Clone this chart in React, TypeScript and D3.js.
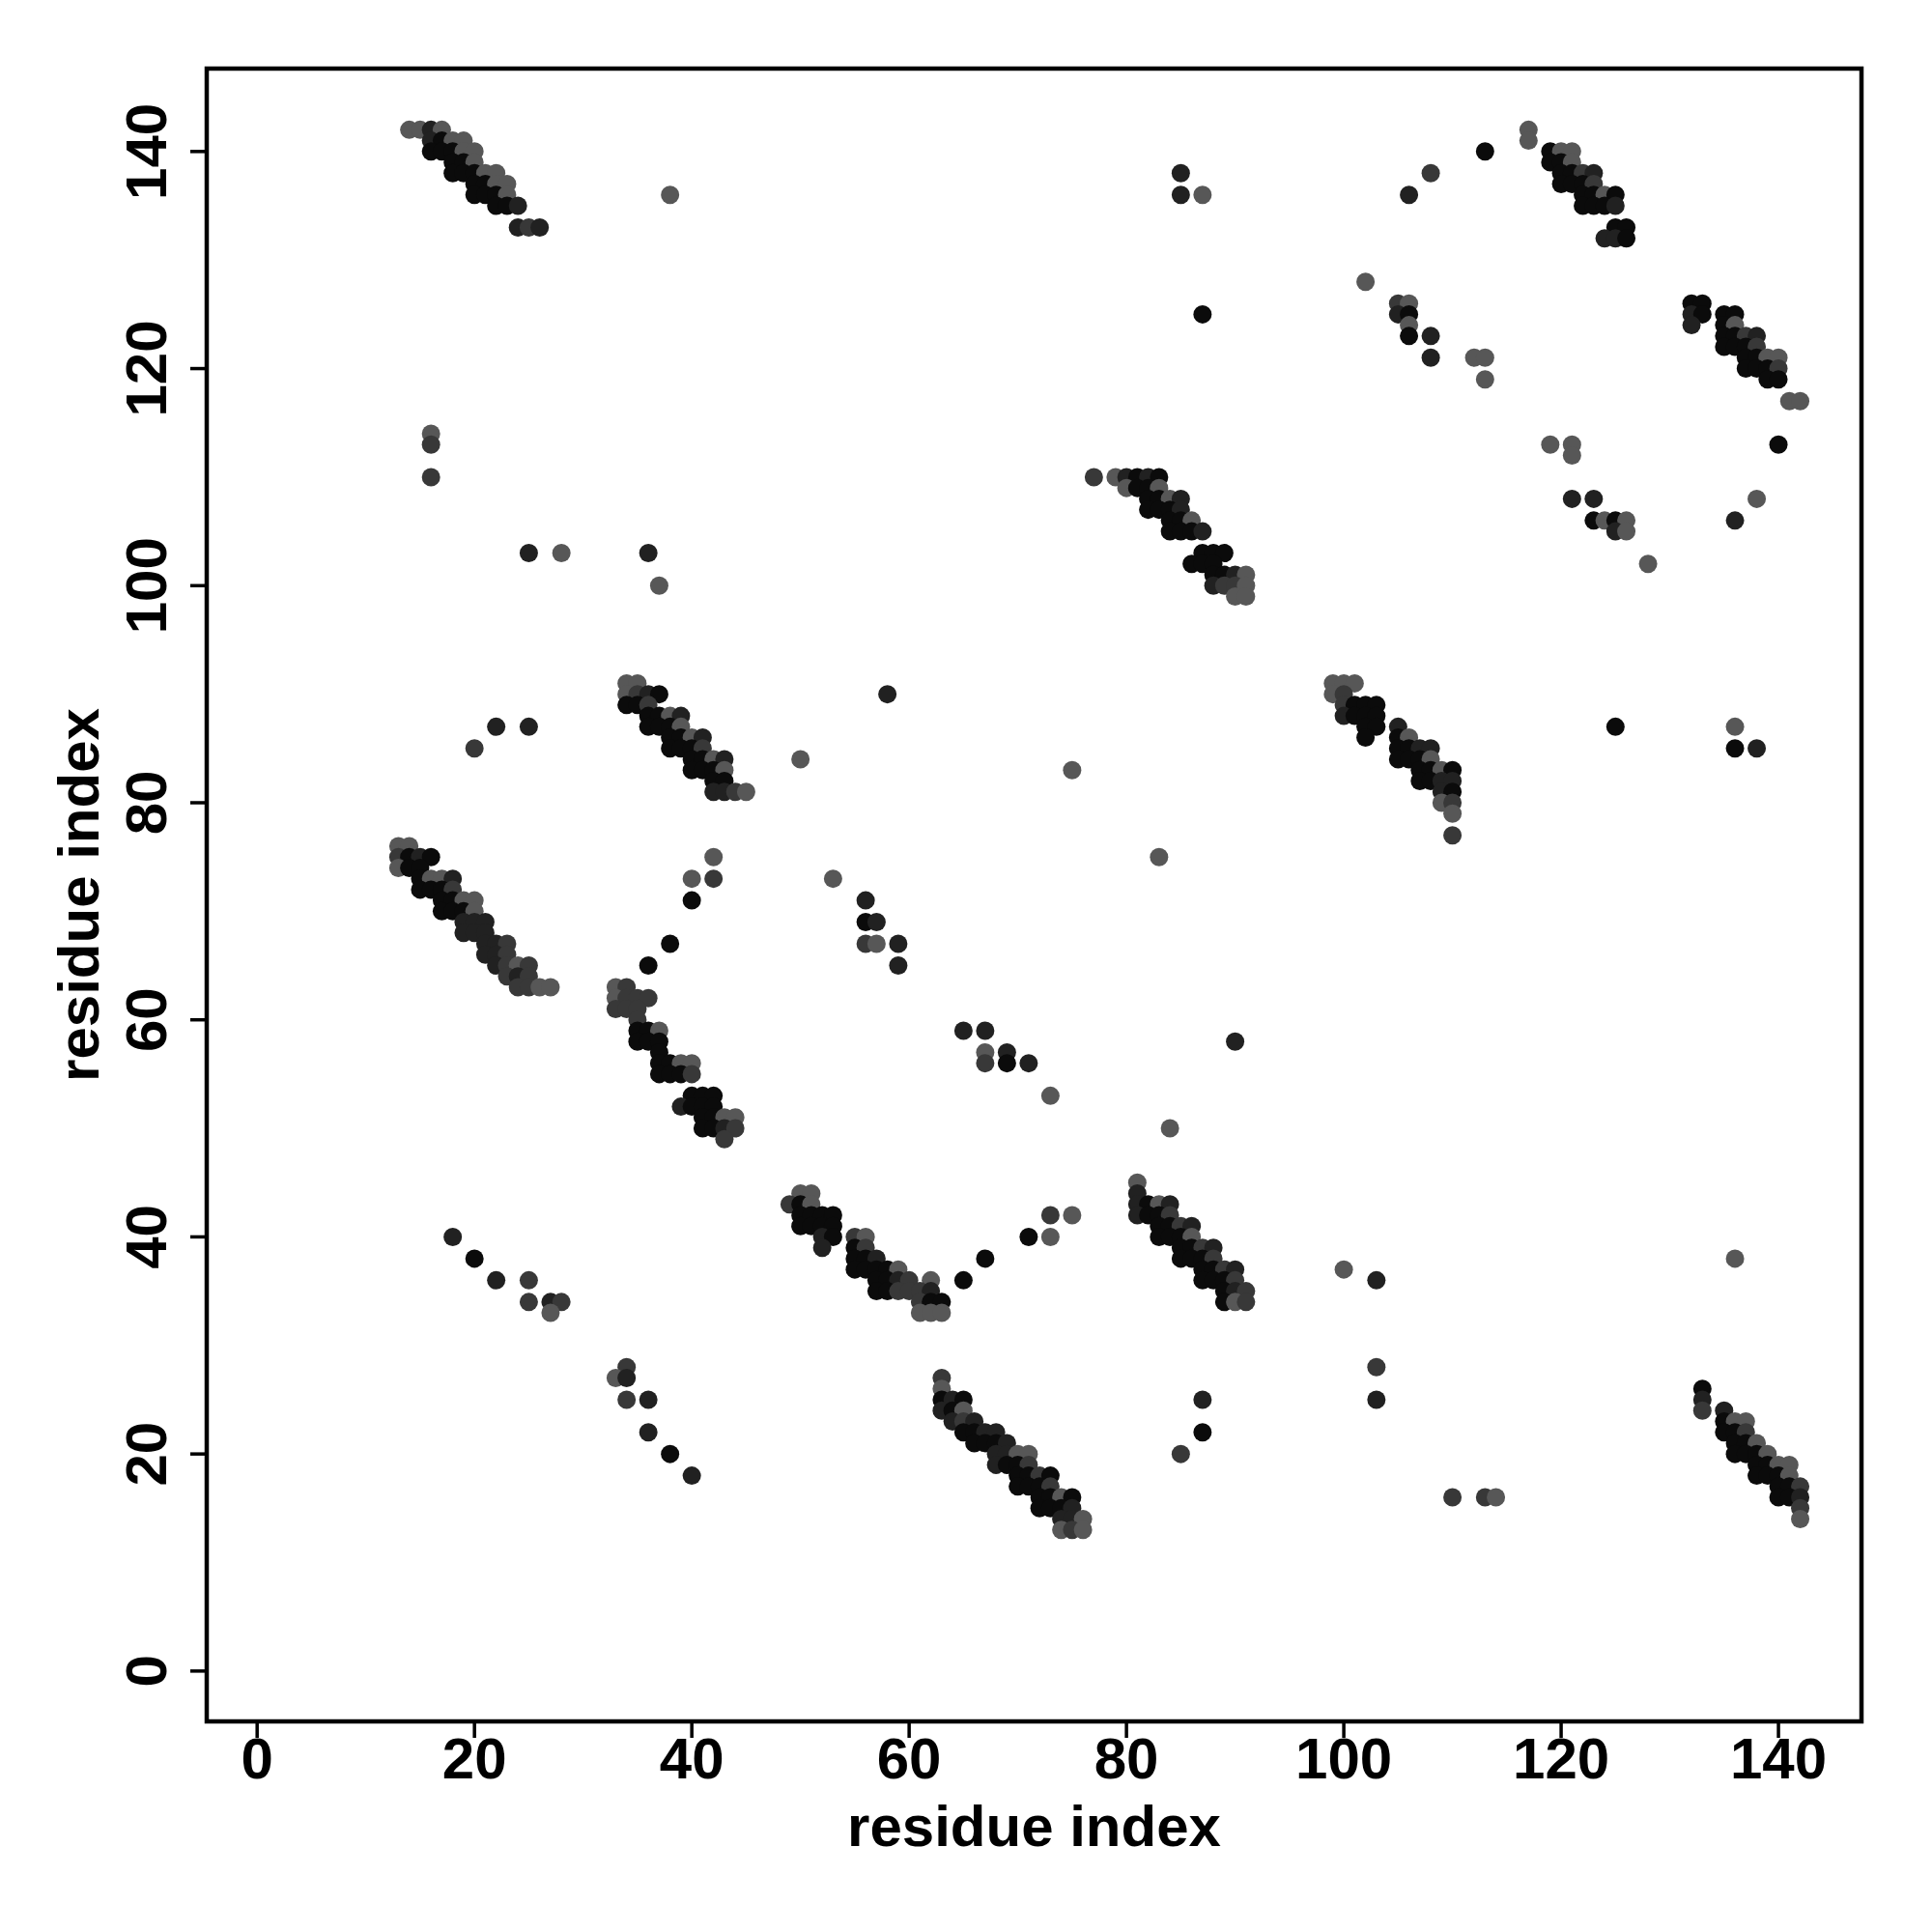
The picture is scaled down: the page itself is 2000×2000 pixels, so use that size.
import React from "react";
import * as d3 from "d3";

// [residue i, residue j, shade level (0 = darkest … 3 = lightest)]
type P = [number, number, number];

const bandTopLeft: P[] = [
  [14,142,3],[15,142,3],[16,142,1],[17,142,3],
  [16,141,1],[17,141,0],[18,141,3],[19,141,3],
  [16,140,0],[17,140,0],[18,140,0],[19,140,3],[20,140,3],
  [18,139,0],[19,139,0],[20,139,3],
  [18,138,0],[19,138,0],[20,138,0],[21,138,3],[22,138,3],
  [20,137,0],[21,137,0],[22,137,3],[23,137,3],
  [20,136,0],[21,136,0],[22,136,0],[23,136,3],
  [22,135,0],[23,135,0],[24,135,1],
  [24,133,1],[25,133,2],[26,133,1],
];

const bandB: P[] = [
  [77,110,2],[79,110,3],[80,110,1],[81,110,0],[82,110,1],[83,110,0],
  [80,109,3],[81,109,0],[82,109,0],[83,109,3],
  [82,108,0],[83,108,0],[84,108,3],[85,108,1],
  [82,107,0],[83,107,0],[84,107,0],[85,107,1],
  [84,106,0],[85,106,0],[86,106,3],
  [84,105,0],[85,105,0],[86,105,0],[87,105,1],
  [87,103,0],[88,103,0],[89,103,0],
  [86,102,0],[87,102,0],[88,102,0],
  [88,101,0],[89,101,0],[90,101,1],[91,101,3],
  [88,100,1],[89,100,2],[90,100,2],[91,100,3],
  [90,99,3],[91,99,3],
];

const bandC: P[] = [
  [119,140,0],[120,140,3],[121,140,3],
  [119,139,0],[120,139,0],[121,139,3],
  [120,138,0],[121,138,0],[122,138,2],[123,138,1],
  [120,137,0],[121,137,0],[122,137,0],[123,137,2],
  [122,136,0],[123,136,0],[124,136,3],[125,136,0],
  [122,135,0],[123,135,0],[124,135,0],[125,135,1],
  [125,133,0],[126,133,0],
  [124,132,1],[125,132,1],[126,132,0],
];

const bandD: P[] = [
  [132,126,0],[133,126,0],
  [132,125,1],[133,125,0],[135,125,0],[136,125,0],
  [132,124,1],[135,124,0],[136,124,3],
  [135,123,0],[136,123,0],[137,123,2],[138,123,1],
  [135,122,0],[136,122,0],[137,122,0],[138,122,2],
  [137,121,0],[138,121,0],[139,121,3],[140,121,3],
  [137,120,0],[138,120,0],[139,120,0],[140,120,2],
  [139,119,0],[140,119,0],
  [141,117,3],[142,117,3],
];

const bandE: P[] = [
  [34,91,3],[35,91,3],
  [34,90,3],[35,90,2],[36,90,1],[37,90,0],
  [34,89,0],[35,89,0],[36,89,2],
  [36,88,0],[37,88,0],[38,88,3],[39,88,1],
  [36,87,0],[37,87,0],[38,87,0],[39,87,3],
  [38,86,0],[39,86,0],[40,86,3],[41,86,1],
  [38,85,0],[39,85,0],[40,85,0],[41,85,2],
  [40,84,0],[41,84,0],[42,84,3],[43,84,1],
  [40,83,0],[41,83,0],[42,83,0],[43,83,3],
  [42,82,0],[43,82,0],
  [42,81,1],[43,81,1],[44,81,2],[45,81,3],
];

const bandF: P[] = [
  [13,76,3],[14,76,3],
  [13,75,2],[14,75,0],[15,75,1],[16,75,0],
  [13,74,3],[14,74,0],[15,74,0],
  [15,73,0],[16,73,3],[17,73,3],[18,73,1],
  [15,72,0],[16,72,0],[17,72,0],[18,72,2],
  [17,71,0],[18,71,0],[19,71,3],[20,71,3],
  [17,70,0],[18,70,0],[19,70,0],[20,70,3],
  [19,69,1],[20,69,1],[21,69,1],
  [19,68,1],[20,68,1],[21,68,1],
  [21,67,1],[22,67,1],[23,67,2],
  [21,66,1],[22,66,1],[23,66,2],
  [22,65,1],[23,65,2],[24,65,3],[25,65,2],
  [23,64,2],[24,64,1],[25,64,2],
  [24,63,2],[25,63,2],[26,63,3],[27,63,3],
];

const bandG: P[] = [
  [33,63,3],[34,63,2],
  [33,62,3],[34,62,2],[35,62,2],[36,62,2],
  [33,61,2],[34,61,2],[35,61,2],
  [35,60,2],
  [35,59,0],[36,59,0],[37,59,3],
  [35,58,0],[36,58,0],[37,58,0],
  [37,57,0],
  [37,56,0],[38,56,0],[39,56,3],[40,56,3],
  [37,55,0],[38,55,0],[39,55,0],[40,55,2],
  [40,53,0],[41,53,0],[42,53,0],
  [39,52,1],[40,52,0],[41,52,0],[42,52,0],
  [41,51,0],[42,51,0],[43,51,3],[44,51,3],
  [41,50,0],[42,50,0],[43,50,1],[44,50,2],
  [43,49,2],
];

const bandH: P[] = [
  [50,44,3],[51,44,3],
  [49,43,2],[50,43,0],[51,43,3],
  [50,42,0],[51,42,0],[52,42,0],[53,42,0],
  [50,41,0],[51,41,0],[52,41,0],[53,41,0],
  [52,40,1],[53,40,0],[55,40,2],[56,40,3],
  [52,39,1],[55,39,0],[56,39,2],
  [55,38,0],[56,38,0],[57,38,1],
  [55,37,0],[56,37,0],[57,37,0],[58,37,0],[59,37,3],
  [57,36,0],[58,36,0],[59,36,1],[60,36,2],[62,36,3],
  [57,35,0],[58,35,0],[59,35,2],[60,35,2],[61,35,2],[62,35,1],
  [61,34,2],[62,34,0],[63,34,0],
  [61,33,3],[62,33,3],[63,33,3],
];

const bandI: P[] = [
  [63,27,2],
  [63,26,3],
  [63,25,0],[64,25,1],[65,25,0],
  [63,24,1],[64,24,0],[65,24,3],
  [64,23,1],[65,23,2],[66,23,1],
  [65,22,0],[66,22,0],[67,22,1],[68,22,1],
  [66,21,0],[67,21,0],[68,21,0],[69,21,1],
  [68,20,1],[69,20,1],[70,20,3],[71,20,3],
  [68,19,1],[69,19,0],[70,19,0],[71,19,2],
  [70,18,0],[71,18,0],[72,18,2],[73,18,0],
  [70,17,0],[71,17,0],[72,17,0],[73,17,2],
  [72,16,0],[73,16,0],[74,16,3],[75,16,0],
  [72,15,0],[73,15,0],[74,15,0],[75,15,1],
  [74,14,1],[75,14,1],[76,14,3],
  [74,13,3],[75,13,2],[76,13,3],
];

const bandJ: P[] = [
  [81,45,3],
  [81,44,1],
  [81,43,1],[82,43,0],[83,43,3],[84,43,1],
  [81,42,1],[82,42,0],[83,42,0],[84,42,2],
  [83,41,0],[84,41,0],[85,41,2],[86,41,1],
  [83,40,0],[84,40,0],[85,40,0],[86,40,3],
  [85,39,0],[86,39,0],[87,39,2],[88,39,1],
  [85,38,0],[86,38,0],[87,38,0],[88,38,2],
  [87,37,0],[88,37,0],[89,37,2],[90,37,1],
  [87,36,0],[88,36,0],[89,36,0],[90,36,2],
  [89,35,0],[90,35,1],[91,35,2],
  [89,34,0],[90,34,3],[91,34,2],
];

const bandK: P[] = [
  [133,26,0],[133,25,1],[133,24,2],[135,24,1],
  [135,23,0],[136,23,3],[137,23,3],
  [135,22,0],[136,22,0],[137,22,2],
  [136,21,0],[137,21,0],[138,21,3],
  [136,20,0],[137,20,0],[138,20,0],[139,20,3],
  [138,19,0],[139,19,0],[140,19,3],[141,19,3],
  [138,18,0],[139,18,0],[140,18,0],[141,18,3],
  [140,17,0],[141,17,0],[142,17,2],
  [140,16,0],[141,16,0],[142,16,1],
  [142,15,2],[142,14,3],
];

const bandL: P[] = [
  [99,91,3],[100,91,3],[101,91,3],
  [99,90,3],[100,90,2],
  [100,89,2],[101,89,0],[102,89,0],[103,89,0],
  [100,88,1],[101,88,0],[102,88,0],[103,88,0],
  [102,87,0],[103,87,0],[105,87,1],
  [102,86,0],[105,86,0],[106,86,3],
  [105,85,0],[106,85,0],[107,85,1],[108,85,1],
  [105,84,0],[106,84,0],[107,84,0],[108,84,3],
  [107,83,0],[108,83,0],[109,83,3],[110,83,0],
  [107,82,0],[108,82,0],[109,82,1],[110,82,1],
  [109,81,1],[110,81,0],
  [109,80,3],[110,80,2],
  [110,79,3],
  [110,77,2],
];

const scattered: P[] = [
  [38,136,3],[16,114,3],[16,113,2],[16,110,2],[25,103,1],[28,103,3],[36,103,1],[37,100,3],
  [22,87,1],[25,87,1],[20,85,2],
  [42,75,3],[40,73,3],[42,73,2],[40,71,0],[38,67,0],[36,65,0],
  [58,90,1],[50,84,3],[75,83,3],[53,73,3],[56,71,1],[56,69,0],[57,69,1],[56,67,2],[57,67,3],
  [59,67,1],[59,65,1],[65,59,1],[67,59,1],[67,57,3],[69,57,1],[67,56,2],[69,56,0],[71,56,1],[73,53,3],
  [65,36,0],[67,38,0],[71,40,0],[73,42,2],[75,42,3],[73,40,3],
  [18,40,1],[20,38,0],[22,36,1],[25,36,2],[25,34,2],[27,34,1],[28,34,2],[27,33,3],
  [34,28,2],[33,27,3],[34,27,1],[34,25,2],[36,25,1],[36,22,1],[38,20,0],[40,18,1],
  [84,50,3],[100,37,3],[103,36,1],[103,28,2],[103,25,1],[87,25,1],[87,22,0],[85,20,2],
  [110,16,2],[113,16,2],[114,16,3],[136,38,3],
  [83,75,3],[90,58,1],[125,87,0],[136,87,3],[136,85,0],[138,85,1],
  [85,138,1],[85,136,1],[87,136,3],[108,138,2],[106,136,1],[102,128,3],[87,125,0],
  [105,126,2],[106,126,3],[105,125,1],[106,125,0],[106,124,3],[106,123,0],[108,123,1],[108,121,1],
  [113,140,0],[117,142,3],[117,141,3],[112,121,3],[113,121,3],[113,119,3],
  [119,113,3],[121,113,3],[121,112,3],[121,108,1],[123,108,1],
  [123,106,0],[124,106,3],[125,106,0],[126,106,3],[125,105,1],[126,105,3],
  [128,102,3],[140,113,0],[138,108,3],[136,106,1],
];

const tickValues = [0, 20, 40, 60, 80, 100, 120, 140];
const shades = ["#0b0b0b", "#212121", "#383838", "#575757"];
const xTitle = "residue index";
const yTitle = "residue index";

const allPoints: P[] = [
  ...bandTopLeft, ...bandB, ...bandC, ...bandD, ...bandE, ...bandF,
  ...bandG, ...bandH, ...bandI, ...bandJ, ...bandK, ...bandL, ...scattered,
];

export default function App() {
  const W = 2000, H = 2000;
  const left = 214, right = 1927, top = 71, bottom = 1782;
  const lo = 1, hi = 142, pad = (hi - lo) * 0.04;
  const x = d3.scaleLinear().domain([lo - pad, hi + pad]).range([left, right]);
  const y = d3.scaleLinear().domain([lo - pad, hi + pad]).range([bottom, top]);
  const font = "'Liberation Sans', Arial, Helvetica, sans-serif";
  const fs = 60;
  const tickLen = 17;

  return (
    <svg width={W} height={H} viewBox={`0 0 ${W} ${H}`}
      style={{ position: "absolute", left: 0, top: 0, background: "#fff" }}>
      <rect x={0} y={0} width={W} height={H} fill="#fff" />
      <g>
        {allPoints.map((p, i) => (
          <circle key={i} cx={x(p[0])} cy={y(p[1])} r={9.5} fill={shades[p[2]]} />
        ))}
      </g>
      <rect x={left} y={top} width={right - left} height={bottom - top}
        fill="none" stroke="#000" strokeWidth={4.5} />
      {tickValues.map((t) => (
        <g key={"x" + t}>
          <line x1={x(t)} x2={x(t)} y1={bottom} y2={bottom + tickLen} stroke="#000" strokeWidth={3.5} />
          <text x={x(t)} y={1841} textAnchor="middle" fontFamily={font}
            fontWeight="bold" fontSize={fs} fill="#000">{t}</text>
        </g>
      ))}
      {tickValues.map((t) => (
        <g key={"y" + t}>
          <line x1={left} x2={left - tickLen} y1={y(t)} y2={y(t)} stroke="#000" strokeWidth={3.5} />
          <text transform={`translate(172,${y(t)}) rotate(-90)`} textAnchor="middle"
            fontFamily={font} fontWeight="bold" fontSize={fs} fill="#000">{t}</text>
        </g>
      ))}
      <text x={(left + right) / 2} y={1911} textAnchor="middle" fontFamily={font}
        fontWeight="bold" fontSize={fs} fill="#000">{xTitle}</text>
      <text transform={`translate(102,${(top + bottom) / 2}) rotate(-90)`} textAnchor="middle"
        fontFamily={font} fontWeight="bold" fontSize={fs} fill="#000">{yTitle}</text>
    </svg>
  );
}
